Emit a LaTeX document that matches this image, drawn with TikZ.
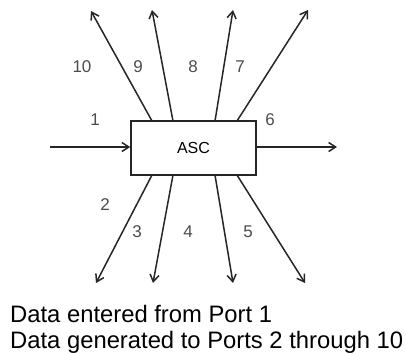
\documentclass[tikz,border=0pt]{standalone}
\usepackage{fontspec}
\setmainfont{Liberation Sans}
\usetikzlibrary{arrows.meta}
\tikzset{port/.style={-{Straight Barb[length=7pt,width=9pt]},line width=1.5pt,black!85}}
\newcommand{\portlabel}{\node[font=\fontsize{17}{17}\selectfont,text=black!70,inner sep=0pt]}
\newcommand{\boxnode}{\node[draw=black!85,line width=1.5pt,minimum width=125pt,minimum height=54pt,inner sep=0pt,font=\fontsize{16}{16}\selectfont]}

\begin{document}
\begin{tikzpicture}[x=1pt,y=-1pt]
          \useasboundingbox (0,0) rectangle (406,353);
          \boxnode (asc) at (193.5,148) {ASC}; %
          \coordinate (in1) at (50,147); %
          \coordinate (out6) at (337,147);
          % free ends of the ports
          \coordinate (e10) at (91,11);
          \coordinate (e9) at (152,10);
          \coordinate (e7) at (233,10);
          \coordinate (e6) at (308,10);
          \coordinate (e2) at (96,283);
          \coordinate (e3) at (153,283);
          \coordinate (e4) at (233,283);
          \coordinate (e5) at (305,283);
          % start points on the box
          \coordinate (n10) at (152,121);
          \coordinate (n9) at (173,121);
          \coordinate (n7) at (215,121);
          \coordinate (n6) at (237,121);
          \coordinate (s2) at (152,175);
          \coordinate (s3) at (173,175);
          \coordinate (s4) at (215,175);
          \coordinate (s5) at (237,175);
          \draw[port] (in1) -- (asc.west |- in1);
          \draw[port] (asc.east |- out6) -- (out6);
          \draw[port] (n10) -- (e10);
          \draw[port] (n9) -- (e9);
          \draw[port] (n7) -- (e7);
          \draw[port] (n6) -- (e6);
          \draw[port] (s2) -- (e2);
          \draw[port] (s3) -- (e3);
          \draw[port] (s4) -- (e4);
          \draw[port] (s5) -- (e5);
          \portlabel (l1) at (95,120) {1};
          \portlabel (l2) at (105,205) {2};
          \portlabel (l3) at (137,232) {3};
          \portlabel (l4) at (188,232) {4};
          \portlabel (l5) at (248,232) {5};
          \portlabel (l6) at (270,120) {6};
          \portlabel (l7) at (240,67) {7};
          \portlabel (l8) at (193,67) {8};
          \portlabel (l9) at (138,67) {9};
          \portlabel (l10) at (82,67) {10};
          \node[anchor=base west,inner sep=0pt,font=\fontsize{23.8}{24}\selectfont] (note1) at (10,322) {Data entered from Port 1};
          \node[anchor=base west,inner sep=0pt,font=\fontsize{23.8}{24}\selectfont] (note2) at (10,348) {Data generated to Ports 2 through 10};
        \end{tikzpicture}
\end{document}
